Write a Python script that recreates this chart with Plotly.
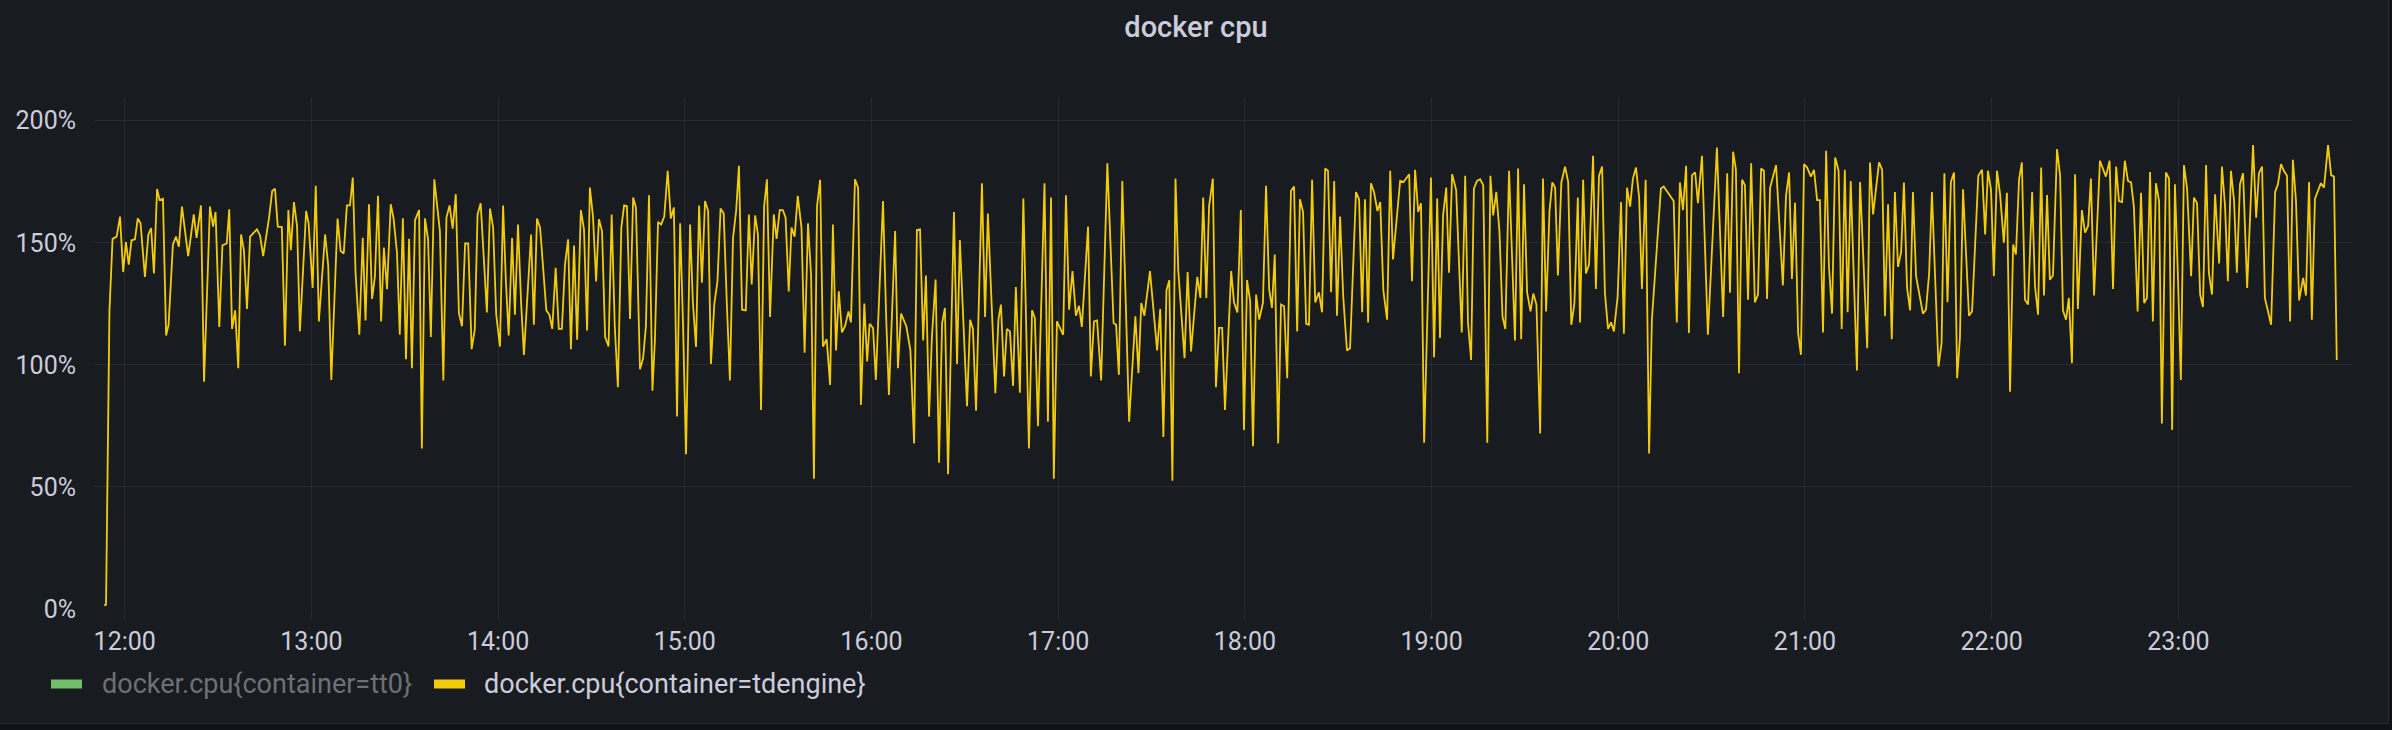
import pandas as pd
import plotly.graph_objects as go

# ---------------- data ----------------
title_text = "docker cpu"
series_names = ["docker.cpu{container=tt0}", "docker.cpu{container=tdengine}"]
series_colors = ["#73BF69", "#F2CC0C"]
day = "2023-01-01"
hour_ticks = ["12:00", "13:00", "14:00", "15:00", "16:00", "17:00",
              "18:00", "19:00", "20:00", "21:00", "22:00", "23:00"]
y_ticks = [0, 50, 100, 150, 200]
y_tick_labels = ["0%", "50%", "100%", "150%", "200%"]

# minutes after 12:00 for each sample of the tdengine series
t_min = [
    -6.6, -6.0, -4.9, -3.9, -2.6, -1.5, -0.5, 0.4, 1.3, 2.2, 3.3, 4.2, 5.1, 6.5, 7.6, 8.5, 9.4, 10.4, 11.2, 12.3,
    13.3, 14.1, 15.5, 16.5, 17.4, 18.4, 20.4, 22.2, 23.1, 24.5, 25.5, 27.4, 28.4, 29.2, 30.4, 31.4, 32.8, 33.6, 34.5, 35.5,
    36.5, 37.4, 38.3, 39.3, 40.3, 42.5, 43.5, 44.5, 46.4, 47.4, 48.3, 49.2, 50.5, 51.5, 52.6, 53.4, 54.4, 55.4, 56.3, 58.3,
    59.1, 60.4, 61.4, 62.4, 64.4, 65.4, 66.4, 68.4, 69.4, 70.4, 71.4, 72.4, 73.3, 74.2, 75.4, 76.5, 77.4, 78.5, 79.5, 80.4,
    81.4, 82.4, 83.3, 84.3, 85.5, 86.4, 87.5, 88.4, 89.4, 90.4, 91.4, 92.3, 93.3, 94.6, 95.5, 96.5, 97.5, 98.4, 99.5, 100.5,
    101.3, 102.4, 103.4, 104.4, 105.4, 106.4, 107.4, 108.4, 109.4, 110.4, 111.5, 112.5, 113.4, 114.4, 116.4, 117.4, 118.4, 119.4, 120.6, 121.6,
    122.5, 123.4, 124.5, 125.4, 126.4, 127.4, 128.3, 130.6, 131.5, 132.5, 133.5, 135.5, 136.5, 137.4, 138.5, 139.5, 140.5, 141.5, 142.5, 143.4,
    144.4, 145.4, 146.6, 147.6, 148.6, 149.5, 150.5, 151.5, 152.4, 153.4, 154.4, 155.5, 156.5, 157.5, 158.5, 159.6, 160.5, 161.4, 162.4, 163.4,
    164.3, 165.6, 166.6, 167.5, 168.5, 169.6, 170.4, 171.4, 172.4, 173.4, 174.5, 175.5, 176.5, 177.5, 178.5, 179.4, 180.4, 181.7, 182.6, 183.6,
    184.6, 185.5, 186.5, 187.5, 188.4, 189.5, 190.5, 191.5, 192.5, 193.5, 194.5, 195.5, 196.5, 197.4, 198.4, 199.6, 200.6, 201.5, 202.6, 203.5,
    204.5, 205.5, 206.4, 207.4, 208.6, 209.5, 210.5, 211.5, 212.4, 213.4, 214.3, 215.3, 216.3, 217.5, 218.5, 219.6, 220.6, 221.5, 222.5, 223.5,
    224.4, 225.6, 226.7, 227.6, 228.6, 229.5, 230.5, 231.5, 232.6, 233.4, 234.7, 235.7, 236.6, 237.7, 238.6, 239.4, 240.5, 241.4, 243.7, 244.7,
    245.6, 247.6, 248.5, 249.5, 251.2, 252.5, 253.7, 254.6, 255.6, 256.6, 257.5, 258.5, 259.4, 260.6, 261.7, 262.7, 263.6, 264.6, 266.5, 267.5,
    268.4, 270.7, 271.7, 272.6, 273.6, 275.5, 276.5, 277.4, 279.8, 280.8, 281.6, 282.6, 283.5, 284.5, 285.5, 286.4, 287.7, 288.8, 290.6, 291.6,
    292.5, 293.5, 295.6, 296.7, 297.7, 298.6, 299.6, 301.6, 302.5, 303.5, 304.6, 305.7, 306.7, 307.6, 309.6, 310.5, 311.5, 312.5, 313.8, 315.8,
    317.8, 318.6, 319.5, 320.6, 322.8, 324.8, 325.8, 326.7, 327.7, 329.5, 331.8, 332.8, 333.8, 334.8, 335.7, 336.7, 337.7, 338.6, 340.6, 341.6,
    342.7, 344.7, 345.7, 346.6, 347.6, 348.5, 349.7, 350.7, 351.7, 352.7, 353.6, 355.6, 356.5, 357.6, 358.7, 359.7, 360.7, 361.7, 362.6, 363.6,
    364.6, 365.8, 366.8, 367.8, 368.7, 369.6, 370.7, 371.6, 372.6, 373.6, 374.8, 375.8, 376.8, 377.7, 378.7, 379.7, 380.6, 381.6, 382.6, 383.8,
    384.8, 385.8, 386.7, 387.7, 388.7, 389.6, 390.6, 391.6, 392.8, 393.8, 395.7, 396.7, 397.7, 398.6, 399.6, 400.5, 401.5, 402.6, 403.5, 404.5,
    405.7, 406.7, 407.6, 409.9, 411.0, 412.8, 413.7, 414.7, 415.7, 416.6, 417.6, 419.8, 420.8, 421.8, 422.7, 423.7, 424.7, 425.6, 426.6, 427.9,
    429.7, 430.8, 431.7, 432.7, 433.6, 434.6, 435.6, 436.6, 437.9, 438.9, 439.8, 440.8, 441.8, 442.8, 443.7, 444.9, 446.8, 447.8, 448.8, 449.7,
    450.7, 451.8, 452.7, 453.7, 454.9, 455.8, 456.8, 457.9, 458.8, 459.7, 460.6, 461.7, 462.9, 463.9, 464.9, 465.9, 467.0, 467.7, 468.7, 469.6,
    470.6, 471.9, 472.8, 473.8, 474.8, 475.7, 476.7, 477.7, 478.6, 479.8, 480.9, 481.8, 482.8, 483.8, 484.7, 485.7, 486.7, 487.6, 488.8, 489.9,
    490.8, 493.7, 494.6, 497.8, 498.8, 499.8, 500.8, 501.8, 502.7, 503.7, 504.7, 505.6, 506.9, 508.8, 511.7, 513.7, 515.0, 515.9, 516.9, 517.8,
    518.8, 519.8, 520.7, 521.7, 522.7, 523.9, 524.9, 525.9, 526.8, 527.8, 528.8, 530.7, 532.9, 533.9, 534.9, 535.8, 536.8, 537.8, 538.7, 539.7,
    540.7, 541.9, 542.9, 543.9, 544.8, 545.8, 546.8, 547.7, 548.7, 549.7, 550.8, 551.8, 552.8, 553.7, 554.7, 555.7, 556.7, 557.7, 560.0, 560.9,
    561.9, 563.8, 564.8, 565.7, 566.7, 567.9, 568.9, 569.9, 570.9, 571.8, 572.8, 573.8, 574.7, 575.7, 577.9, 578.9, 579.9, 580.8, 581.8, 582.9,
    583.9, 584.8, 585.8, 586.9, 587.9, 588.9, 589.8, 590.8, 592.7, 593.7, 595.7, 596.9, 597.9, 598.8, 599.8, 600.7, 601.7, 602.7, 603.9, 604.9,
    605.9, 606.9, 607.8, 608.8, 609.7, 610.7, 611.7, 613.0, 613.9, 614.9, 615.9, 616.8, 617.8, 618.7, 619.7, 621.0, 622.0, 622.9, 623.9, 624.8,
    625.8, 626.8, 627.7, 629.0, 630.0, 631.0, 631.9, 632.9, 634.8, 635.8, 636.7, 637.9, 639.0, 640.0, 640.9, 641.9, 642.8, 643.8, 644.8, 645.7,
    646.9, 648.0, 649.0, 649.9, 650.9, 651.8, 652.8, 653.8, 654.7, 656.0, 657.0, 658.0, 658.9, 659.9, 660.8, 661.8, 662.8, 664.1, 665.0, 666.0,
    667.0, 667.9, 668.9, 669.8, 670.8, 671.8, 673.1, 674.0, 675.0, 675.9, 676.9, 677.9, 678.8, 679.8, 680.8, 682.1, 684.0, 685.0, 685.9, 686.9,
    687.8, 689.8, 691.1, 692.0, 693.0, 693.9, 694.9, 695.9, 696.8, 697.8, 698.8, 700.1, 701.0, 702.0, 702.9, 703.9, 705.8, 706.8, 708.1, 709.1,
    710.0, 710.9,
]

# CPU usage (%) of container tdengine
cpu_pct = [
    1.5, 1.8, 122, 151.6, 152.5, 160.7, 138, 150.3, 141, 151, 151.4, 160, 158, 136, 153.4, 156, 137.4, 172, 167.5, 168,
    112, 116.4, 149.3, 152.5, 148.4, 164.8, 144.5, 161.6, 152, 165.3, 93.1, 164.8, 156.6, 162.6, 115.5, 148.9, 149.7, 163.7, 114.7, 122.3,
    98.6, 153.4, 147, 122.9, 152.5, 155.5, 153, 144.5, 160.3, 171.2, 172.2, 156.6, 156.4, 107.8, 163.4, 147, 166.7, 156.6, 113.7, 163,
    158, 131.5, 173.3, 117.8, 153.4, 140.7, 93.8, 159.9, 146.6, 145.6, 165.3, 165.3, 176.7, 137.4, 112.3, 152, 118.2, 165.8, 127, 136,
    169.2, 117.8, 148, 131, 165.8, 160, 146, 112.3, 160, 102.3, 151.6, 98.6, 159.3, 163.4, 65.7, 160, 151.4, 111.4, 176, 163,
    154.8, 93.6, 160.3, 165.3, 155.8, 169.9, 121.2, 115.8, 149.7, 149.7, 106.4, 114.4, 161.6, 166.2, 121.5, 164, 156.2, 120.5, 107.5, 165.3,
    134.2, 112, 151.9, 120.5, 157.5, 125.3, 104.1, 153.4, 116.4, 159.9, 156.2, 122.3, 120.5, 114.7, 139.7, 114.7, 114.7, 141.1, 151.4, 106.4,
    148.9, 110.3, 163.4, 155.5, 114.1, 172.6, 160.7, 134.2, 159.6, 154.8, 111.4, 107.5, 161.6, 115.8, 90.8, 156.2, 165.3, 165, 118.8, 168.5,
    164.4, 98.2, 102.7, 115.8, 169.5, 89.4, 110.3, 158.5, 157.5, 160.7, 179.5, 159.9, 164.4, 78.8, 158, 117.8, 63.4, 157.5, 125.6, 107.3,
    165.3, 133.6, 167.1, 163, 100.4, 125.1, 134.2, 164, 162, 125.3, 93.6, 152, 163, 181.5, 122.6, 122.3, 161.6, 132.9, 161.2, 153.4,
    81.5, 165, 176, 119.6, 161.6, 151.6, 163.4, 163.4, 160.3, 130.1, 156.2, 152.5, 169.2, 156.2, 105, 158, 136.3, 53.4, 165, 175.8,
    107.5, 110.5, 91.8, 157.5, 105.9, 130.1, 113.3, 115.8, 121.9, 117.4, 176, 172.6, 83.6, 125.1, 101.4, 116.8, 115.1, 93.8, 167.1, 119.9,
    87.7, 154.8, 98.6, 121, 115.8, 105.9, 67.8, 155.2, 155.5, 110, 136.6, 78.8, 111, 134.9, 59.9, 117.1, 123.3, 55.2, 162.6, 100.4,
    151.1, 83.1, 118.5, 114.7, 81.2, 174.4, 119.6, 162, 88.4, 118.5, 124.7, 95.2, 114.7, 113.7, 91.4, 131.9, 88.6, 168.1, 65.7, 122.3,
    119.2, 74.9, 174.4, 76.7, 168.5, 53.4, 117.8, 112.3, 169.5, 122.6, 138.4, 120.1, 124.2, 115.5, 156.6, 95.2, 117.8, 118.2, 93.6, 182.6,
    117.1, 116.4, 95.9, 175.3, 76.7, 119.9, 96.6, 125.3, 120.1, 138.4, 105.9, 122.9, 70.5, 130.5, 134.7, 52.5, 176.3, 138.4, 102.7, 138,
    105.5, 136, 127.4, 168.5, 127.4, 165, 176.3, 90.8, 115.1, 115.1, 81.5, 138.4, 125.6, 121.5, 163.4, 73.3, 134.7, 126, 66.7, 128.8,
    118.5, 125.3, 173.3, 131.1, 123.3, 145.2, 67.8, 124.7, 124, 94.5, 171.2, 173, 113.7, 167.8, 162.6, 116.8, 116.4, 175.8, 125.6, 129.7,
    121.5, 180.4, 179.5, 129.7, 175.3, 120.1, 160.7, 128.1, 105.9, 106.8, 170.8, 167.8, 121.5, 167.8, 117.4, 174.4, 170.8, 163, 166.7, 130.5,
    118.5, 179.5, 143.2, 175.3, 174.9, 178.1, 134.2, 179.9, 162.6, 166.2, 68.1, 176.7, 103.1, 168.1, 111, 161.2, 172.6, 137.7, 178.1, 171.6,
    113.3, 177.4, 117.4, 102, 172.2, 175.3, 176, 173.6, 68.1, 177.4, 161.2, 170.8, 154.8, 119.6, 114.7, 179.5, 110, 180.4, 110.5, 174,
    129.7, 121.9, 129.2, 124.7, 71.9, 176.3, 121.9, 163, 174.7, 172.6, 136.6, 174.7, 181.2, 174.9, 116.4, 125.1, 168.5, 117.4, 175.8, 137.4,
    141.1, 185.6, 131.1, 177.4, 181.2, 129.5, 114.7, 117.4, 113.7, 128.1, 166.7, 112.7, 172.6, 164.8, 176.3, 180.8, 168.5, 131.1, 175.8, 63.7,
    118.5, 172.2, 173, 167.1, 117.4, 174.7, 163.4, 181.5, 113, 177.7, 178.8, 166.2, 185.6, 112.3, 189, 119.6, 178.5, 129.5, 187.3, 180.1,
    96.6, 175.8, 173.6, 126.7, 182.6, 125.6, 128.8, 180.4, 179.5, 127, 172.6, 181.8, 132.5, 169.2, 178.8, 135.2, 166.4, 113, 104.1, 182.2,
    180.8, 177.1, 179.9, 167.5, 167.5, 113.3, 187.7, 140.4, 121, 184.9, 179.5, 114.7, 179.9, 121.5, 175.3, 135.6, 97.7, 174.9, 106.8, 182.9,
    161.6, 182.9, 179.9, 119.9, 165.8, 110.5, 170.8, 140.1, 146.2, 174.7, 131.5, 122.3, 170.8, 136.3, 121, 122.6, 137.4, 170.8, 136.3, 99.3,
    108.9, 178.5, 125.6, 174.9, 178.8, 94.5, 111, 171.9, 120.1, 121.9, 177.4, 179.9, 153.4, 179.5, 171.6, 136.3, 179.5, 169.9, 150, 170.5,
    89, 149.3, 145.2, 176, 182.9, 126.7, 124.7, 170.8, 132.5, 120.5, 180.8, 128.4, 169.5, 134.9, 136.6, 188.4, 177.4, 122.3, 118.5, 127.4,
    100.7, 178.1, 122.9, 163.4, 154.1, 156.9, 176.3, 128.4, 183.6, 179.9, 177.1, 183.6, 131.1, 181.2, 167.1, 166.7, 183.6, 175.3, 174.7, 164.8,
    121.9, 170.5, 125.3, 127.4, 179, 117.8, 174.4, 167.1, 76, 178.8, 176.3, 73.3, 174, 134.2, 93.8, 181.8, 172.2, 136.3, 168.5, 166.2,
    128.8, 123.7, 181.8, 137.7, 128.8, 169.9, 141.5, 181.2, 165, 134.2, 179.5, 167.1, 137.7, 174, 178.5, 131.5, 190, 160.3, 178.5, 181.2,
    127.4, 116.4, 170.8, 174, 182.2, 179.5, 177.4, 117.8, 184, 167.1, 126.4, 135.6, 128.4, 174.9, 118.5, 168.1, 174.4, 172.6, 190, 177.7,
    177.1, 102,
]

x_range = ["2023-01-01 11:50:08", "2023-01-01 23:55:48"]
y_range = [0, 209.7]

# ---------------- figure ----------------
noon = pd.Timestamp(f"{day} 12:00")
times = [noon + pd.Timedelta(minutes=m) for m in t_min]

W, H = 2392, 730
L, R, T, B = 94, 40, 97, 121          # plot area margins (px)
PW, PH = W - L - R, H - T - B
BG = "#181b1f"
PAGE = "#111217"
TXT = "#ccccdc"
GRID = "rgba(204,204,220,0.09)"


def px_x(px):
    return (px - L) / PW


def px_y(py):
    return (H - B - py) / PH


fig = go.Figure()
fig.add_trace(go.Scatter(
    x=times, y=cpu_pct, mode="lines", name=series_names[1],
    line=dict(color=series_colors[1], width=1.8, shape="linear"),
    showlegend=False, hoverinfo="skip",
))

shapes = []
# panel background / border (only right and bottom edges are inside the picture)
shapes.append(dict(type="rect", xref="paper", yref="paper", layer="below",
                   x0=px_x(-20), x1=px_x(2388.5), y0=px_y(723.5), y1=px_y(-20),
                   fillcolor=BG, line=dict(color="rgba(204,204,220,0.12)", width=1)))

annotations = []
# legend (swatch + label)
legend_items = [
    (51, 100, series_colors[0], "#6f7077", series_names[0]),
    (434, 482, series_colors[1], TXT, series_names[1]),
]
ly = 684
for sx, tx, col, tcol, name in legend_items:
    shapes.append(dict(type="rect", xref="paper", yref="paper",
                       x0=px_x(sx), x1=px_x(sx + 31), y0=px_y(ly + 4.5), y1=px_y(ly - 4.5),
                       fillcolor=col, line=dict(width=0)))
    annotations.append(dict(xref="paper", yref="paper", x=px_x(tx), y=px_y(ly),
                            xanchor="left", yanchor="middle", showarrow=False,
                            text=name, font=dict(family="Roboto", size=27, color=tcol)))

fig.update_layout(
    width=W, height=H,
    margin=dict(l=L, r=R, t=T, b=B, pad=0),
    paper_bgcolor=PAGE, plot_bgcolor=BG,
    title=dict(text=title_text, x=0.5, xref="container", xanchor="center",
               y=1 - 27 / H, yref="container", yanchor="middle",
               font=dict(family="Roboto", size=29, color=TXT, weight=500)),
    showlegend=False,
    shapes=shapes,
    annotations=annotations,
    xaxis=dict(
        type="date", range=x_range,
        tickvals=[f"{day} {h}" for h in hour_ticks], ticktext=hour_ticks,
        showgrid=True, gridcolor=GRID, gridwidth=1,
        ticks="outside", ticklen=10, tickcolor=GRID, tickwidth=1,
        showline=False, zeroline=False,
        tickfont=dict(family="Roboto", size=25, color=TXT),
    ),
    yaxis=dict(
        range=y_range, tickvals=y_ticks, ticktext=y_tick_labels,
        showgrid=True, gridcolor=GRID, gridwidth=1,
        ticks="outside", ticklen=12, tickcolor="rgba(0,0,0,0)",
        showline=False, zeroline=False,
        tickfont=dict(family="Roboto", size=25, color=TXT),
    ),
)

# remove the default page margin so the figure sits at the window's origin
fig.write_html(
    "out.html",
    config={"displayModeBar": False},
    post_script="document.body.style.margin='0';document.body.style.background='#111217';",
)
